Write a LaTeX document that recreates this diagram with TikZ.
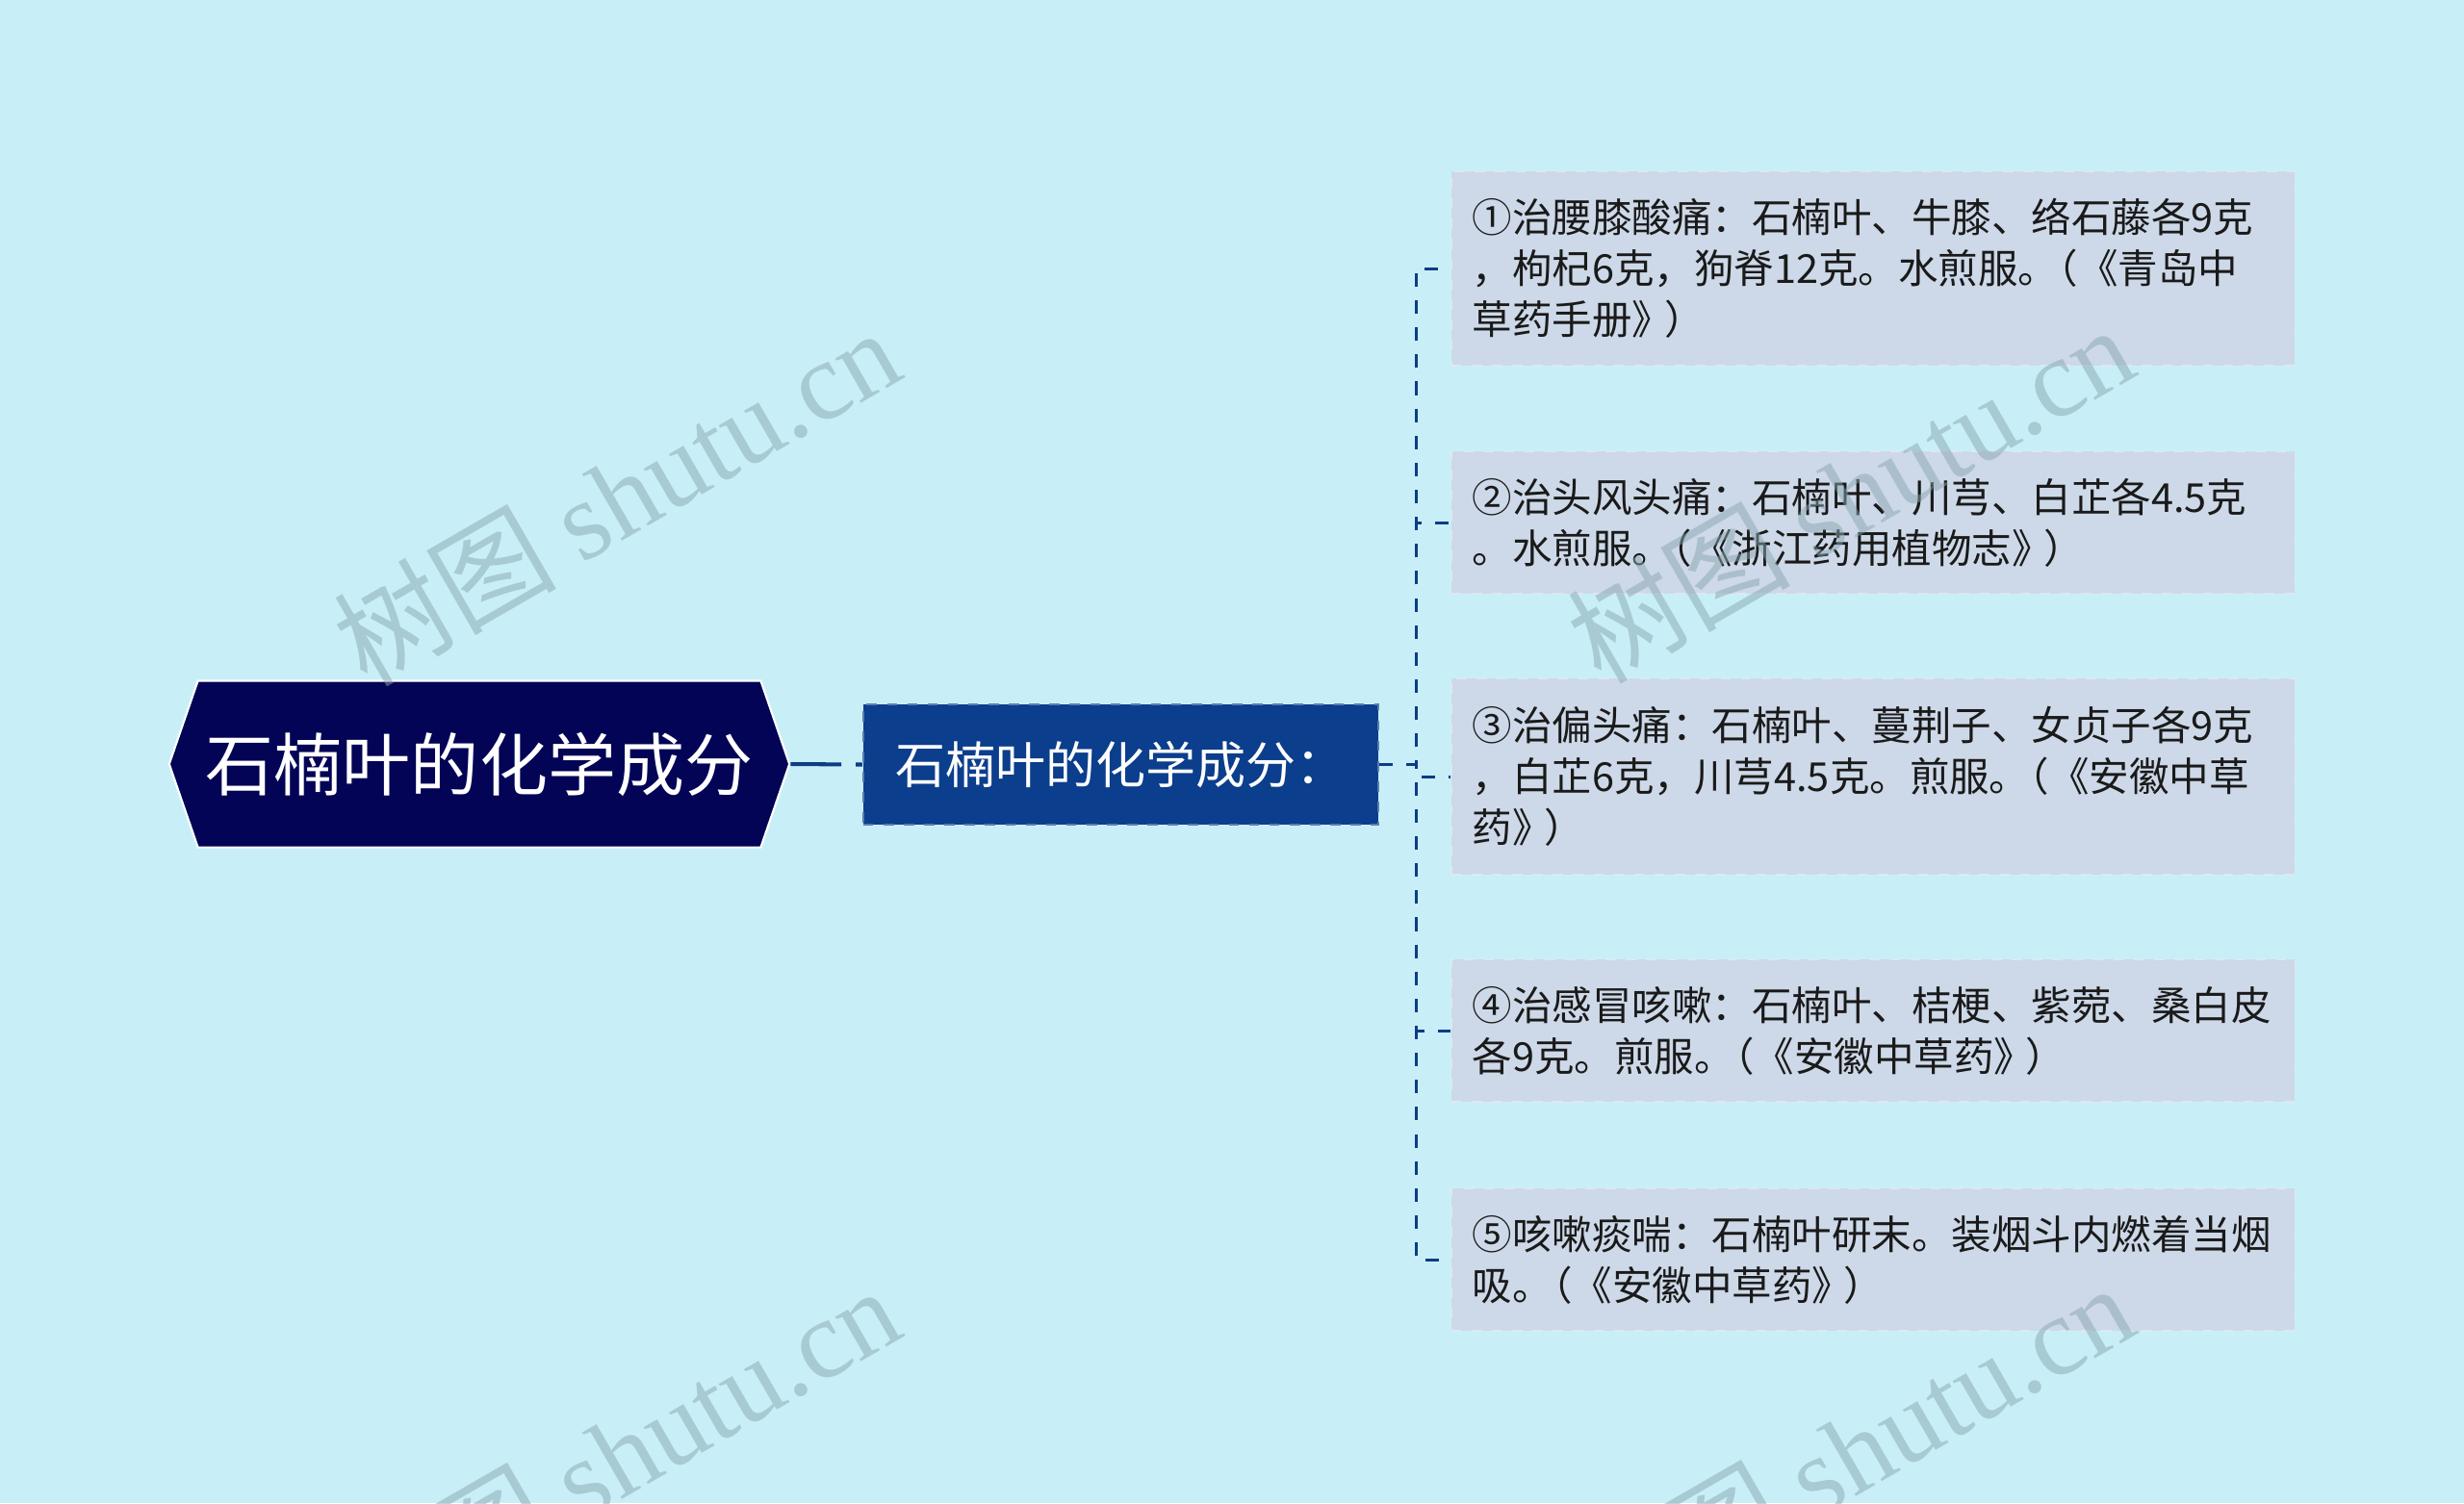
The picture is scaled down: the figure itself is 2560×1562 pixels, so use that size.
\documentclass[tikz,border=0pt]{standalone}
\usepackage{fontspec}
\setmainfont{Noto Sans CJK SC}
\newfontfamily\wmlatin{Liberation Serif}
\usetikzlibrary{shapes.symbols}
\newcommand\pkern{\kern-0.5em}
\newcommand\qkern{\kern-0.2em}
\definecolor{bgc}{HTML}{C8EFF7}
\definecolor{rootc}{HTML}{030456}
\definecolor{midc}{HTML}{0B3E8C}
\definecolor{midborder}{HTML}{5B7DB1}
\definecolor{leafc}{HTML}{CDD9E8}
\definecolor{leafborder}{HTML}{DFE7F1}
\definecolor{connc}{HTML}{0E3C85}
\definecolor{wmc}{HTML}{89A6AF}
\definecolor{txtc}{HTML}{1A1A1A}
\tikzset{
  rootbox/.style={shape=signal, signal to=west and east, signal pointer angle=142,
    fill=rootc, draw=white, line width=0.6pt, minimum width=6.44cm, minimum height=1.73cm,
    inner sep=0pt, text=white, font=\fontsize{20.2pt}{24pt}\selectfont},
  midbox/.style={rectangle, fill=midc, draw=midborder, dashed, line width=0.5pt,
    minimum width=5.35cm, minimum height=1.25cm, inner sep=0pt, text=white,
    font=\fontsize{14.8pt}{18pt}\selectfont},
  leafbox/.style={rectangle, fill=leafc, draw=leafborder, dashed, line width=0.5pt,
    anchor=west, text width=8.32cm, inner xsep=0.22cm, inner ysep=0pt, align=left,
    text=txtc, font=\fontsize{11.8pt}{15.1pt}\selectfont},
  rootconn/.style={draw=connc, line width=1.15pt, dash pattern=on 15pt off 4.3pt},
  leafconn/.style={draw=connc, line width=0.85pt, dash pattern=on 4pt off 4pt},
  wmark/.style={text=wmc, text opacity=0.5, rotate=30, font=\fontsize{33pt}{38pt}\selectfont, inner sep=0pt}
}
\begin{document}
\begin{tikzpicture}[x=0.01cm,y=-0.01cm]
\fill[bgc] (0,0) rectangle (2560,1562);
\useasboundingbox (0,0) rectangle (2560,1562);

% nodes
\node[rootbox] (root) at (498,794) {石楠叶的化学成分};
\node[midbox] (mid) at (1164.5,794.5) {石楠叶的化学成分：};

\node[leafbox, minimum height=2.02cm] (l1) at (1507,279)
  {①治腰膝酸痛：石楠叶、牛膝、络石藤各9克\\，枸杞6克，狗脊12克。水煎服。\pkern（《青岛中\\草药手册》\qkern）};
\node[leafbox, minimum height=1.48cm] (l2) at (1507,543)
  {②治头风头痛：石楠叶、川芎、白芷各4.5克\\。水煎服。\pkern（《浙江药用植物志》\qkern）};
\node[leafbox, minimum height=2.04cm] (l3) at (1507,807)
  {③治偏头痛：石楠叶、蔓荆子、女贞子各9克\\，白芷6克，川芎4.5克。煎服。\pkern（《安徽中草\\药》\qkern）};
\node[leafbox, minimum height=1.48cm] (l4) at (1507,1071)
  {④治感冒咳嗽：石楠叶、桔梗、紫菀、桑白皮\\各9克。煎服。\pkern（《安徽中草药》\qkern）};
\node[leafbox, minimum height=1.48cm] (l5) at (1507,1309)
  {⑤咳嗽痰喘：石楠叶研末。装烟斗内燃着当烟\\吸。\pkern（《安徽中草药》\qkern）};

% connectors
\draw[rootconn] (root.east) -- (mid.west);
\foreach \l in {l1,l2,l3,l4,l5}{
  \draw[leafconn] (mid.east) -- ++(38,0) |- (\l.west);
}

% watermarks
\node[wmark] (wm1) at (640,515) {树图 {\wmlatin shutu.cn}};
\node[wmark] (wm2) at (1922,512) {树图 {\wmlatin shutu.cn}};
\node[wmark] (wm3) at (640,1511) {树图 {\wmlatin shutu.cn}};
\node[wmark] (wm4) at (1922,1508) {树图 {\wmlatin shutu.cn}};
\end{tikzpicture}
\end{document}
